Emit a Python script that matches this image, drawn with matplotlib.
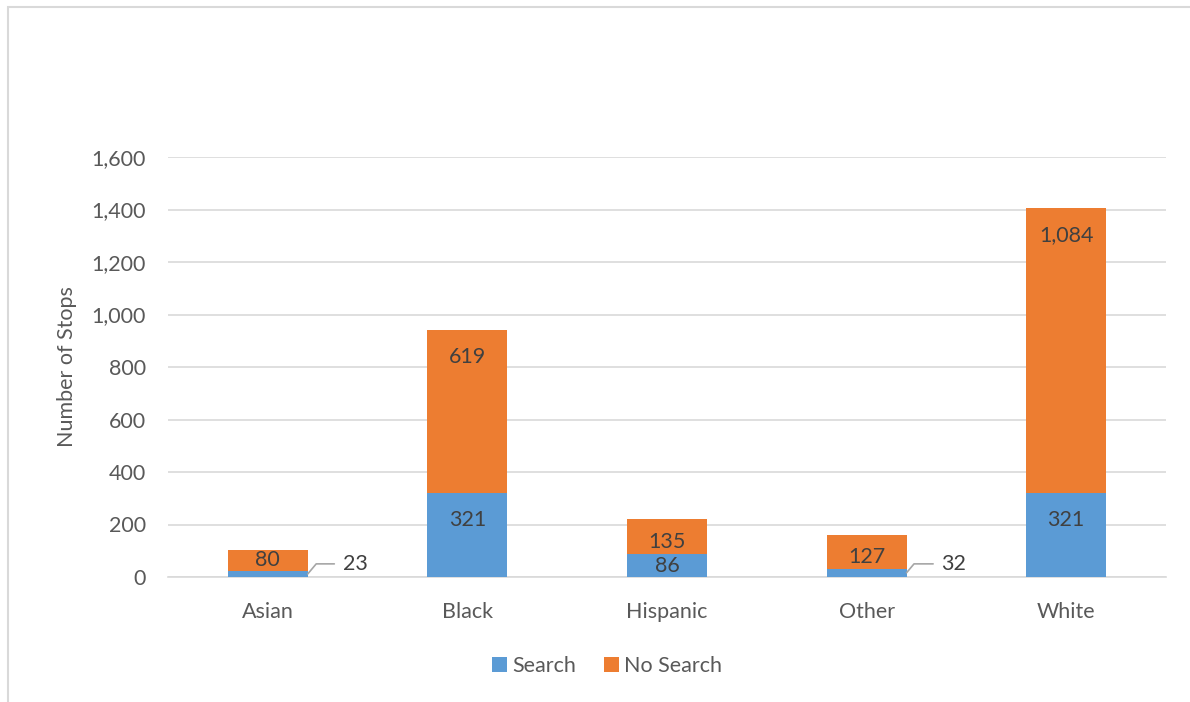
import numpy as np
import matplotlib.pyplot as plt
from matplotlib.patches import Rectangle

# data
groups = ['Asian', 'Black', 'Hispanic', 'Other', 'White']
search = [23, 321, 86, 32, 321]
no_search = [80, 619, 135, 127, 1084]
yticks = [0, 200, 400, 600, 800, 1000, 1200, 1400, 1600]

blue = '#5B9BD5'
orange = '#ED7D31'
txt = '#595959'
lab = '#404040'
fs = 15.5

plt.rcParams['font.family'] = ['Lato', 'DejaVu Sans']

fig = plt.figure(figsize=(11.9, 7.02), dpi=100)
ax = fig.add_axes([168/1190, 1-577/702, 998/1190, 420/702])

# chart border
fig.patches.append(Rectangle((8/1190, -0.05), 1.1, 1-7/702+0.05, transform=fig.transFigure,
                             fill=False, edgecolor='#D9D9D9', linewidth=1.5))

x = np.arange(len(groups))
b1 = ax.bar(x, search, width=0.4, color=blue, label='Search', zorder=3)
b2 = ax.bar(x, no_search, width=0.4, bottom=search, color=orange, label='No Search', zorder=3)

ax.set_xlim(-0.5, len(groups) - 0.5)
ax.set_ylim(0, 1600)
ax.set_yticks(yticks)
ax.set_yticklabels([f'{v:,}' for v in yticks])
ax.grid(axis='y', color='#D9D9D9', linewidth=1.2, zorder=0)
for s in ['top', 'right', 'left']:
    ax.spines[s].set_visible(False)
ax.spines['bottom'].set_color('#D9D9D9')
ax.spines['bottom'].set_linewidth(1.2)
ax.tick_params(length=0, labelsize=fs, colors=txt)
ax.tick_params(axis='y', pad=16)
ax.tick_params(axis='x', pad=18)
ax.set_xticks(x)
ax.set_xticklabels(groups)
ax.set_ylabel('Number of Stops', fontsize=fs, color=txt, labelpad=10)

# pixels per data unit, for inside-end label offsets
ppu = 420 / 1600


def inside_end(i, top, h):
    hp = h * ppu
    off = min(27, max(hp / 2, hp - 12))
    ax.annotate(f'{h:,}', xy=(i, top), xytext=(0, -off * 0.72), textcoords='offset points',
                ha='center', va='center', fontsize=fs, color=lab, zorder=4)


for i in range(len(groups)):
    s, n = search[i], no_search[i]
    if s < 60:
        # small segment: label outside with leader line
        ax.annotate(f'{s:,}', xy=(i + 0.2, s / 2), xytext=(i + 0.375, 50),
                    fontsize=fs, color=lab, va='center', ha='left',
                    arrowprops=dict(arrowstyle='-', color='#A6A6A6', lw=1.2,
                                    connectionstyle='angle,angleA=0,angleB=50,rad=0',
                                    shrinkA=4, shrinkB=0))
    else:
        inside_end(i, s, s)
    inside_end(i, s + n, n)

fig.legend(handles=[b1, b2], loc='center', bbox_to_anchor=(607/1190, 1-666/702), ncol=2,
           frameon=False, fontsize=fs, labelcolor=txt, handlelength=0.7, handleheight=0.7,
           handletextpad=0.25, columnspacing=1.3)

fig.savefig('out.png', dpi=100)
